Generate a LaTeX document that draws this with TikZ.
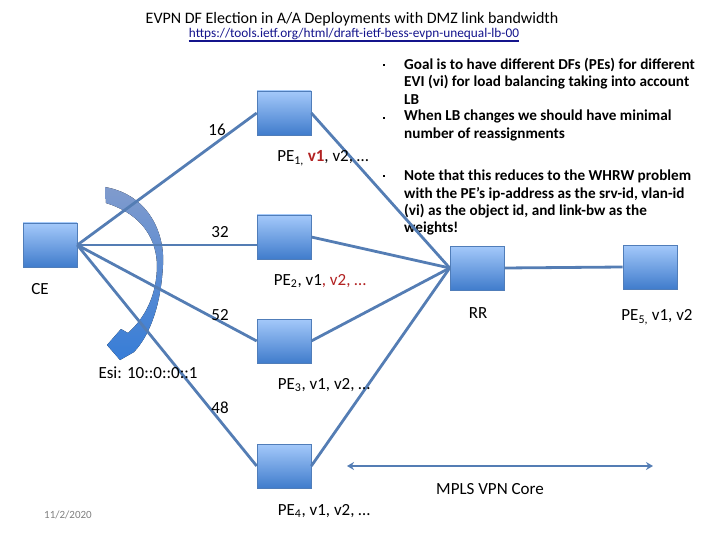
\documentclass[tikz,border=0pt]{standalone}
\usepackage{fontspec}
\setmainfont{Carlito}
\usetikzlibrary{positioning,arrows.meta}

\definecolor{linkblue}{RGB}{84,125,180}
\definecolor{boxtop}{RGB}{164,201,250}
\definecolor{boxbot}{RGB}{64,124,204}
\definecolor{boxline}{RGB}{80,125,185}
\definecolor{urlblue}{RGB}{20,20,140}
\definecolor{darkred}{RGB}{178,34,34}
\definecolor{arctop}{RGB}{128,155,205}
\definecolor{arcbot}{RGB}{55,125,215}

\tikzset{
  router/.style={draw=boxline, line width=0.6pt, minimum width=54pt,
    minimum height=44pt, inner sep=0pt, top color=boxtop, bottom color=boxbot},
  link/.style={draw=linkblue, line width=2.8pt},
  lbl/.style={font=\fontsize{17}{19}\selectfont, inner sep=0pt},
  note/.style={font=\bfseries\fontsize{15.2}{17.3}\selectfont, align=left,
    anchor=north west, inner sep=0pt},
  bulletmark/.style={fill=black, minimum size=2.8pt, inner sep=0pt},
}

\begin{document}
\begin{tikzpicture}[x=1pt, y=-1pt]
    \useasboundingbox (0,0) rectangle (720,540);

    % heading
    \node[font=\fontsize{16}{18}\selectfont, inner sep=0pt] (title) at (352,19)
        {EVPN DF Election in A/A Deployments with DMZ link bandwidth};
    \node[font=\fontsize{13.3}{15}\selectfont, text=urlblue, inner sep=0pt] (url) at (354,34)
        {https://tools.ietf.org/html/draft-ietf-bess-evpn-unequal-lb-00};
    \draw[urlblue, line width=1.5pt] ([yshift=-1pt]url.south west) -- ([yshift=-1pt]url.south east);

    % bullet notes
    \node[bulletmark] (dot1) at (384,65) {};
    \node[note] (goal) at (404,58)
        {Goal is to have different DFs (PEs) for different\\EVI (vi) for load balancing taking into account\\LB};
    \node[bulletmark] (dot2) at (384,118) {};
    \node[note] (change) at (404,110)
        {When LB changes we should have minimal\\number of reassignments};
    \node[bulletmark] (dot3) at (384,176) {};
    \node[note] (whrw) at (404,170)
        {Note that this reduces to the WHRW problem\\with the PE’s ip-address as the srv-id, vlan-id\\(vi) as the object id, and link-bw as the\\weights!};

    % curved arrow round the links
    \fill[top color=arctop, bottom color=arcbot]
        (105,187) .. controls (150,195) and (165,235) .. (163,265)
        .. controls (161,305) and (150,335) .. (134,352)
        -- (120,360) -- (107,345) -- (121,329) -- (128,333)
        .. controls (145,318) and (157,295) .. (157,265)
        .. controls (156,232) and (135,212) .. (106,203) -- cycle;

    % routers
    \node[router] (ce) at (50,245) {};
    \node[router] (pe1) at (284,113) {};
    \node[router] (pe2) at (284,237) {};
    \node[router] (pe3) at (284,341) {};
    \node[router] (pe4) at (284,466) {};
    \node[router] (rr) at (477,268) {};
    \node[router] (pe5) at (650,267) {};

    % links
    \draw[link] (ce.east) -- (pe1.west);
    \draw[link] (ce.east) -- (ce.east -| pe2.west);
    \draw[link] (ce.east) -- (pe3.west);
    \draw[link] (ce.east) -- (pe4.west);
    \foreach \pe in {pe1,pe2,pe3,pe4}
        \draw[link] (\pe.east) -- (rr.west);
    \draw[link] (rr.east) -- (pe5.west);

    % link bandwidths
    \node[lbl] (bw1) at (217,130) {16};
    \node[lbl] (bw2) at (220,232) {32};
    \node[lbl] (bw3) at (220,315) {52};
    \node[lbl] (bw4) at (220,408) {48};

    % router labels
    \node[lbl] (ce-lbl) at (40,289) {CE};
    \node[lbl] (esi) at (148,373) {Esi: 10::0::0::1};
    \node[lbl] (pe1-lbl) at (323,158) {PE\textsubscript{1,} \textcolor{darkred}{\textbf{v1}}, v2, …};
    \node[lbl] (pe2-lbl) at (320,281) {PE\textsubscript{2}, v1\textcolor{darkred}{, v2, …}};
    \node[lbl] (pe3-lbl) at (324,385) {PE\textsubscript{3}, v1, v2, …};
    \node[lbl] (pe4-lbl) at (324,511) {PE\textsubscript{4}, v1, v2, …};
    \node[lbl] (rr-lbl) at (478,313) {RR};
    \node[lbl] (pe5-lbl) at (657,317) {PE\textsubscript{5,} v1, v2};

    % core
    \coordinate (core-l) at (347,466);
    \coordinate (core-r) at (653,466);
    \draw[link, line width=2.6pt, {Stealth[length=7pt,width=8pt]}-{Stealth[length=7pt,width=8pt]}] (core-l) -- (core-r);
    \node[lbl] (core) at (490,489) {MPLS VPN Core};

    \node[font=\fontsize{11}{13}\selectfont, text=gray] (date) at (68,515) {11/2/2020};
\end{tikzpicture}
\end{document}
